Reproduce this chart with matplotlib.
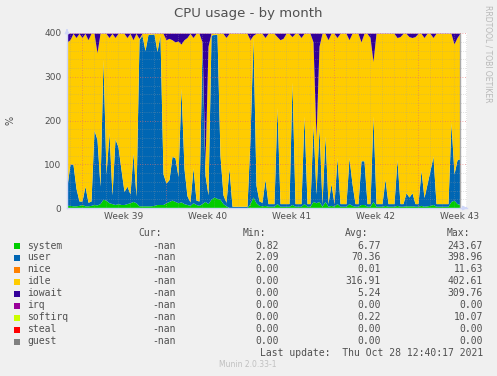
import matplotlib
matplotlib.use("Agg")
import matplotlib.pyplot as plt
from matplotlib.patches import Rectangle
import numpy as np

# one sample every 6 hours (0.25 day), from the left edge of the graph
step = 0.25

system = [6, 6, 5, 5, 6, 8, 5, 5, 6, 8,
          7, 10, 20, 18, 12, 10, 8, 10, 8, 8,
          10, 12, 15, 12, 5, 5, 5, 5, 5, 6,
          8, 8, 8, 12, 15, 18, 15, 12, 14, 10,
          8, 6, 12, 8, 6, 10, 15, 10, 20, 25,
          22, 20, 10, 5, 1, 1, 1, 1, 1, 1,
          1, 10, 25, 12, 6, 5, 6, 4, 4, 4,
          10, 4, 4, 4, 4, 8, 4, 4, 4, 10,
          4, 4, 15, 12, 15, 4, 15, 4, 6, 4,
          10, 4, 4, 4, 10, 6, 4, 4, 8, 8,
          4, 4, 15, 4, 4, 4, 6, 4, 4, 4,
          6, 4, 4, 5, 5, 5, 4, 4, 6, 4,
          5, 6, 8, 4, 4, 4, 4, 4, 15, 18,
          10, 8]

user = [45, 95, 95, 40, 10, 8, 45, 8, 10, 170,
        150, 40, 320, 60, 160, 20, 150, 130, 80, 30,
        40, 20, 110, 15, 380, 390, 355, 392, 392, 392,
        350, 388, 70, 45, 50, 100, 100, 60, 260, 80,
        20, 8, 80, 10, 10, 365, 60, 20, 375, 372,
        375, 100, 20, 8, 90, 3, 3, 3, 3, 3,
        3, 150, 365, 40, 10, 8, 60, 6, 6, 6,
        220, 6, 6, 6, 6, 280, 6, 6, 6, 200,
        6, 6, 175, 20, 170, 6, 150, 6, 50, 6,
        105, 6, 6, 6, 105, 50, 6, 6, 100, 100,
        6, 6, 195, 6, 6, 6, 60, 6, 6, 6,
        105, 6, 6, 30, 20, 30, 6, 6, 80, 20,
        50, 80, 110, 6, 6, 6, 6, 6, 180, 60,
        100, 105]

iowait = [20, 15, 0.5, 10, 0.5, 10, 0.5, 15, 0.5, 0.5,
          45, 0.5, 0.5, 0.5, 10, 0.5, 10, 0.5, 0.5, 0.5,
          10, 0.5, 15, 0.5, 12, 0.5, 0.5, 0.5, 0.5, 0.5,
          0.5, 0.5, 0.5, 15, 12, 15, 20, 18, 25, 15,
          10, 0.5, 10, 0.5, 0.5, 20, 300, 30, 0.5, 0.5,
          0.5, 0.5, 0.5, 10, 0.5, 0.5, 0.5, 0.5, 0.5, 0.5,
          0.5, 15, 5, 0.5, 0.5, 0.5, 10, 0.5, 0.5, 0.5,
          8, 15, 12, 0.5, 0.5, 8, 0.5, 0.5, 10, 0.5,
          0.5, 0.5, 20, 240, 30, 0.5, 0.5, 15, 0.5, 0.5,
          10, 0.5, 0.5, 0.5, 15, 0.5, 0.5, 0.5, 20, 0.5,
          0.5, 10, 65, 0.5, 0.5, 0.5, 0.5, 0.5, 0.5, 0.5,
          10, 8, 0.5, 0.5, 8, 10, 8, 0.5, 0.5, 10,
          0.5, 0.5, 10, 0.5, 0.5, 0.5, 0.5, 0.5, 0.5, 25,
          10, 0.5]

n = len(user)
nice = [0.0] * n
softirq = [0.3] * n
irq = [0.0] * n
steal = [0.0] * n
guest = [0.0] * n
# idle fills the rest of the 4 cpus (400 %)
idle = list(np.clip(400 - np.array(system) - np.array(user) - np.array(iowait)
                    - np.array(softirq), 0, None))

names = ["system", "user", "nice", "idle", "iowait", "irq", "softirq", "steal", "guest"]
colors = ["#00CC00", "#0066B3", "#FF8000", "#FFCC00", "#330099", "#990099",
          "#CCFF00", "#FF0000", "#808080"]
cur = ["-nan"] * 9
mins = ["0.82", "2.09", "0.00", "0.00", "0.00", "0.00", "0.00", "0.00", "0.00"]
avgs = ["6.77", "70.36", "0.01", "316.91", "5.24", "0.00", "0.22", "0.00", "0.00"]
maxs = ["243.67", "398.96", "11.63", "402.61", "309.76", "0.00", "10.07", "0.00", "0.00"]

week_labels = ["Week 39", "Week 40", "Week 41", "Week 42", "Week 43"]
first_week_end = 8.25   # first monday boundary, in days from the left edge
total_days = 400 / 12.0

W, H = 497, 376
fig = plt.figure(figsize=(W / 100, H / 100), dpi=100)
fig.patch.set_facecolor("#F0F0F0")

def fx(px):
    return px / W

def fy(py):
    return 1 - py / H

ax = fig.add_axes([fx(67), fy(208), fx(467) - fx(67), fy(33) - fy(208)])
ax.set_facecolor("white")

days = np.arange(n) * step
series = [system, user, nice, idle, iowait, irq, softirq, steal, guest]
bottom = np.zeros(n)
for vals, c in zip(series, colors):
    top = bottom + np.array(vals, dtype=float)
    ax.fill_between(days, bottom, top, color=c, linewidth=0, zorder=1)
    bottom = top
ax.axvline(days[-1], color="#A8A8A8", lw=1, zorder=2)

ax.set_xlim(0, total_days)
ax.set_ylim(0, 400)

# grid drawn over the areas, like rrdtool
dot = (0, (1, 2))
for d in np.arange(first_week_end - 8, total_days, 1.0):
    if abs((d - first_week_end) % 7) < 1e-6:
        ax.axvline(d, color="#E07070", lw=0.6, ls=dot, zorder=3, alpha=0.8)
    else:
        ax.axvline(d, color="#A0A0A0", lw=0.5, ls=dot, zorder=3, alpha=0.6)
for v in range(0, 401, 20):
    if v % 100 == 0:
        ax.axhline(v, color="#E07070", lw=0.6, ls=dot, zorder=3, alpha=0.8)
    else:
        ax.axhline(v, color="#A0A0A0", lw=0.5, ls=dot, zorder=3, alpha=0.6)

for s in ["top", "right"]:
    ax.spines[s].set_visible(False)
for s in ["left", "bottom"]:
    ax.spines[s].set_color("#CFD6F8")
    ax.spines[s].set_linewidth(1)
    ax.spines[s].set_zorder(4)

ax.set_yticks([0, 100, 200, 300, 400])
ax.set_yticklabels(["0", "100", "200", "300", "400"])
label_pos = [first_week_end - 3.5 + 7 * k for k in range(len(week_labels))]
ax.set_xticks(label_pos)
ax.set_xticklabels(week_labels)
ax.tick_params(axis="both", length=0, labelsize=6.5, labelcolor="#505050", pad=4)
ax.tick_params(axis="x", pad=3)

ax.annotate("", xy=(1.008, 0), xytext=(0.99, 0), xycoords="axes fraction",
            arrowprops=dict(arrowstyle="-|>", color="#CFD6F8", lw=1, mutation_scale=6))
ax.annotate("", xy=(0, 1.04), xytext=(0, 1.0), xycoords="axes fraction",
            arrowprops=dict(arrowstyle="-|>", color="#CFD6F8", lw=1, mutation_scale=6))

fig.text(fx(248), fy(13), "CPU usage - by month", ha="center", va="center",
         fontsize=9.5, color="#505050")
fig.text(fx(10), fy(120), "%", ha="center", va="center", rotation=90,
         fontsize=7, color="#505050")
fig.text(fx(488), fy(5), "RRDTOOL / TOBI OETIKER", ha="center", va="top",
         rotation=270, fontsize=5.5, color="#B8B8B8")

mono = "DejaVu Sans Mono"
tc = "#505050"
fig.text(fx(162), fy(233), "Cur:", ha="right", va="center", family=mono, fontsize=7, color=tc)
fig.text(fx(266), fy(233), "Min:", ha="right", va="center", family=mono, fontsize=7, color=tc)
fig.text(fx(368), fy(233), "Avg:", ha="right", va="center", family=mono, fontsize=7, color=tc)
fig.text(fx(470), fy(233), "Max:", ha="right", va="center", family=mono, fontsize=7, color=tc)
for k, name in enumerate(names):
    yy = 245.5 + 12 * k
    fig.patches.append(Rectangle((fx(14), fy(yy + 3)), fx(6), 6 / H,
                                 transform=fig.transFigure, color=colors[k], lw=0))
    fig.text(fx(27), fy(yy), name, ha="left", va="center", family=mono, fontsize=7, color=tc)
    fig.text(fx(176), fy(yy), cur[k], ha="right", va="center", family=mono, fontsize=7, color=tc)
    fig.text(fx(279), fy(yy), mins[k], ha="right", va="center", family=mono, fontsize=7, color=tc)
    fig.text(fx(381), fy(yy), avgs[k], ha="right", va="center", family=mono, fontsize=7, color=tc)
    fig.text(fx(483), fy(yy), maxs[k], ha="right", va="center", family=mono, fontsize=7, color=tc)

fig.text(fx(483), fy(353.5), "Last update:  Thu Oct 28 12:40:17 2021", ha="right",
         va="center", family=mono, fontsize=7, color=tc)
fig.text(fx(248), fy(364.5), "Munin 2.0.33-1", ha="center", va="center",
         fontsize=5.5, color="#C0C0C0")

fig.savefig("out.png", dpi=100, facecolor=fig.get_facecolor())
